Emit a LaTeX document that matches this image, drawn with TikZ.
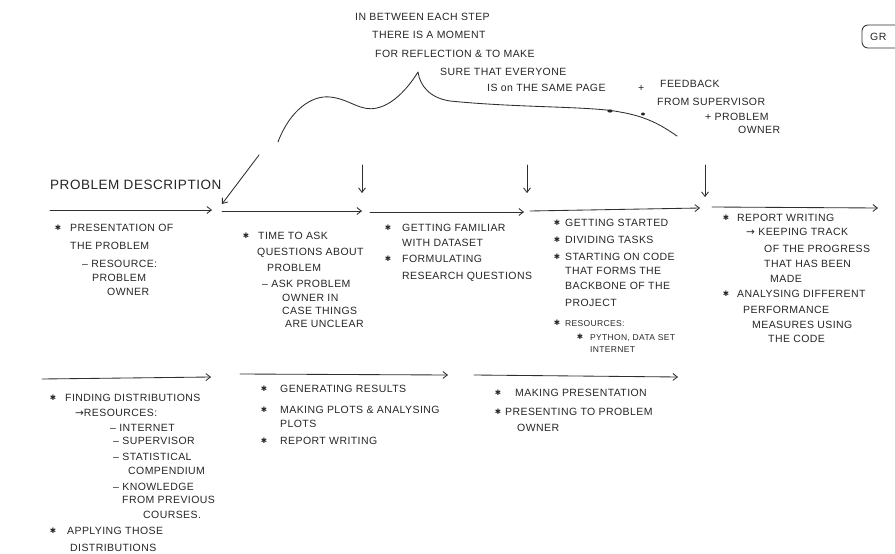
\documentclass[tikz,border=0pt]{standalone}
\usepackage{fontspec}
\setmainfont{Liberation Sans}[LetterSpace=4]
\newfontfamily\symfont{DejaVu Sans}
\usetikzlibrary{arrows.meta}
% one handwritten line of text: name, west point, text
\newcommand\hwline[3]{\node[txt] (#1) at (#2) {#3};}
% a bullet mark: name, centre
\newcommand\hwbul[2]{\node[bul] (#1) at (#2) {\symfont ✱};}
\begin{document}
\begin{tikzpicture}[x=1pt,y=-1pt,
  ink/.style={draw=black!82, line width=0.85pt, line cap=round, line join=round},
  flow/.style={ink, -{Straight Barb[length=4.5pt,width=7pt]}},
  txt/.style={anchor=west, inner sep=0pt, text=black!85,
    font=\fontsize{10.5}{12}\selectfont, text height=7.6pt, text depth=0pt},
  small/.style={txt, font=\fontsize{8.5}{9}\selectfont, text height=6.2pt},
  bul/.style={inner sep=0pt, text=black!85, font=\fontsize{7.5}{7.5}\selectfont}
]
\useasboundingbox[fill=white] (0,0) rectangle (895,554);
\begin{scope}
\clip (0,0) rectangle (895,554);

% corner tag
\draw[ink, rounded corners=6pt] (862,25) rectangle (915,48);
\node[txt] (tag) at (870,37) {GR};

% note on reflection between the steps
\hwline{t1}{355,17}{IN BETWEEN EACH STEP}
\hwline{t2}{372,35}{THERE IS A MOMENT}
\hwline{t3}{375,54}{FOR REFLECTION \& TO MAKE}
\hwline{t4}{440,72}{SURE THAT EVERYONE}
\hwline{t5}{487,88}{IS on THE SAME PAGE}
\hwline{t5p}{638,88}{+}
\hwline{t6}{660,84}{FEEDBACK}
\hwline{t7}{657,102}{FROM SUPERVISOR}
\hwline{t8}{705,117}{+ PROBLEM}
\hwline{t9}{738,130}{OWNER}

% bumpy curve over the steps
\draw[ink] (278,142) .. controls (290,110) and (312,95) .. (330,97)
  .. controls (350,99) and (360,112) .. (377,108)
  .. controls (395,104) and (410,85) .. (418,72)
  .. controls (420,86) and (430,98) .. (450,101)
  .. controls (520,108) and (590,106) .. (620,112)
  .. controls (650,117) and (665,128) .. (677,136);
\fill[black!85] (610,111) ellipse (2.6pt and 1.6pt);
\fill[black!85] (643,114) ellipse (2pt and 1.5pt);

% first row of steps
\hwline{pd}{50,186}{\fontsize{13.5}{15}\selectfont PROBLEM DESCRIPTION}
\coordinate (a1s) at (50,210);  \coordinate (a1e) at (212,210);
\coordinate (a2s) at (222,211); \coordinate (a2e) at (362,211);
\coordinate (a3s) at (370,212); \coordinate (a3e) at (524,212);
\coordinate (a4s) at (530,211); \coordinate (a4e) at (700,208);
\coordinate (a5s) at (712,207); \coordinate (a5e) at (878,208);
\draw[flow] (a1s) -- (a1e);
\draw[flow] (a2s) -- (a2e);
\draw[flow] (a3s) -- (a3e);
\draw[flow] (a4s) -- (a4e);
\draw[flow] (a5s) -- (a5e);

% moments of reflection between steps
\coordinate (d0s) at (259,155); \coordinate (d0e) at (222,204);
\coordinate (d1s) at (362,165); \coordinate (d1e) at (362,193);
\coordinate (d2s) at (527,165); \coordinate (d2e) at (527,193);
\coordinate (d3s) at (705,165); \coordinate (d3e) at (705,197);
\draw[flow] (d0s) -- (d0e);
\draw[flow] (d1s) -- (d1e);
\draw[flow] (d2s) -- (d2e);
\draw[flow] (d3s) -- (d3e);

% step 1
\hwbul{b11}{58,228}
\hwline{c11}{70,228}{PRESENTATION OF}
\hwline{c12}{70,246}{THE PROBLEM}
\hwline{c13}{82,264}{– RESOURCE:}
\hwline{c14}{92,278}{PROBLEM}
\hwline{c15}{107,292}{OWNER}

% step 2
\hwbul{b21}{246,236}
\hwline{c21}{258,236}{TIME TO ASK}
\hwline{c22}{257,252}{QUESTIONS ABOUT}
\hwline{c23}{267,268}{PROBLEM}
\hwline{c24}{262,284}{–\ ASK PROBLEM}
\hwline{c25}{282,298}{OWNER IN}
\hwline{c26}{282,311}{CASE THINGS}
\hwline{c27}{285,324}{ARE UNCLEAR}

% step 3
\hwbul{b31}{388,228}
\hwline{c31}{402,228}{GETTING FAMILIAR}
\hwline{c32}{402,243}{WITH DATASET}
\hwbul{b32}{388,259}
\hwline{c33}{402,259}{FORMULATING}
\hwline{c34}{402,276}{RESEARCH QUESTIONS}

% step 4
\hwbul{b41}{557,223}
\hwline{c41}{565,223}{GETTING STARTED}
\hwbul{b42}{557,240}
\hwline{c42}{565,240}{DIVIDING TASKS}
\hwbul{b43}{557,257}
\hwline{c43}{565,257}{STARTING ON CODE}
\hwline{c44}{565,271}{THAT FORMS THE}
\hwline{c45}{565,286}{BACKBONE OF THE}
\hwline{c46}{565,303}{PROJECT}
\hwbul{b44}{557,323}
\node[small] (c47) at (565,323) {RESOURCES:};
\hwbul{b45}{580,337}
\node[small] (c48) at (590,337) {PYTHON, DATA SET};
\node[small] (c49) at (590,349) {INTERNET};

% step 5
\hwbul{b51}{726,218}
\hwline{c51}{737,218}{REPORT WRITING}
\hwline{c52}{746,232}{{\symfont →}\ KEEPING TRACK}
\hwline{c53}{764,249}{OF THE PROGRESS}
\hwline{c54}{764,264}{THAT HAS BEEN}
\hwline{c55}{770,279}{MADE}
\hwbul{b52}{726,294}
\hwline{c56}{737,294}{ANALYSING DIFFERENT}
\hwline{c57}{743,310}{PERFORMANCE}
\hwline{c58}{752,325}{MEASURES USING}
\hwline{c59}{768,339}{THE CODE}

% second row of steps
\coordinate (r1s) at (42,379);  \coordinate (r1e) at (211,377);
\coordinate (r2s) at (240,374); \coordinate (r2e) at (448,375);
\coordinate (r3s) at (474,375); \coordinate (r3e) at (678,377);
\draw[flow] (r1s) -- (r1e);
\draw[flow] (r2s) -- (r2e);
\draw[flow] (r3s) -- (r3e);

% step 6
\hwbul{b61}{53,398}
\hwline{e11}{65,398}{FINDING DISTRIBUTIONS}
\hwline{e12}{75,413}{{\symfont →}RESOURCES:}
\hwline{e13}{110,428}{– INTERNET}
\hwline{e14}{113,441}{– SUPERVISOR}
\hwline{e15}{113,457}{– STATISTICAL}
\hwline{e16}{128,471}{COMPENDIUM}
\hwline{e17}{113,487}{– KNOWLEDGE}
\hwline{e18}{122,500}{FROM PREVIOUS}
\hwline{e19}{143,515}{COURSES.}
\hwbul{b62}{53,531}
\hwline{e1a}{67,531}{APPLYING THOSE}
\hwline{e1b}{70,548}{DISTRIBUTIONS}

% step 7
\hwbul{b71}{264,389}
\hwline{e21}{280,389}{GENERATING RESULTS}
\hwbul{b72}{264,410}
\hwline{e22}{280,410}{MAKING PLOTS \& ANALYSING}
\hwline{e23}{280,424}{PLOTS}
\hwbul{b73}{264,441}
\hwline{e24}{280,441}{REPORT WRITING}

% step 8
\hwbul{b81}{498,393}
\hwline{e31}{515,393}{MAKING PRESENTATION}
\hwbul{b82}{498,412}
\hwline{e32}{505,412}{PRESENTING TO PROBLEM}
\hwline{e33}{517,428}{OWNER}
\end{scope}
\end{tikzpicture}
\end{document}
